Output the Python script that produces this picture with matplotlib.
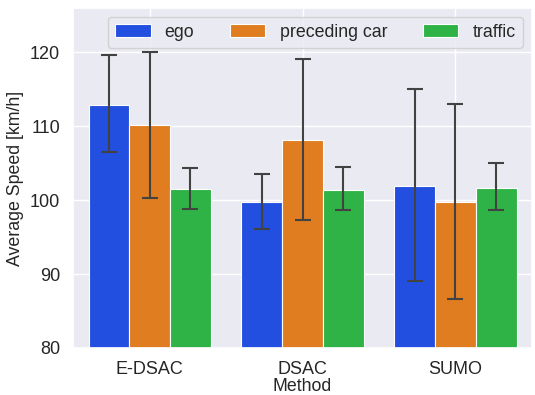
import numpy as np
import matplotlib
matplotlib.use('Agg')
import matplotlib.pyplot as plt
import seaborn as sns

methods = ['E-DSAC', 'DSAC', 'SUMO']
groups = ['ego', 'preceding car', 'traffic']

# mean speed and error bar ends, per group, per method
ego_mean = [112.9, 99.7, 101.9]
ego_low = [106.5, 96.1, 89.0]
ego_high = [119.6, 103.6, 115.0]

prec_mean = [110.1, 108.1, 99.7]
prec_low = [100.3, 97.3, 86.6]
prec_high = [120.1, 119.1, 113.0]

traf_mean = [101.5, 101.4, 101.7]
traf_low = [98.8, 98.6, 98.6]
traf_high = [104.4, 104.5, 105.0]

sns.set_theme(style='darkgrid')
plt.rcParams['font.family'] = ['Liberation Sans', 'DejaVu Sans']

colors = sns.color_palette('bright', 3, desat=0.75)

fig, ax = plt.subplots(figsize=(5.35, 3.95), dpi=100)

series = [
    (ego_mean, ego_low, ego_high),
    (prec_mean, prec_low, prec_high),
    (traf_mean, traf_low, traf_high),
]
x = np.arange(len(methods))
width = 0.8 / len(groups)
for i, (name, (mean, low, high)) in enumerate(zip(groups, series)):
    pos = x - 0.4 + width * (i + 0.5)
    mean = np.array(mean)
    err = [mean - np.array(low), np.array(high) - mean]
    ax.bar(pos, mean, width=width, color=colors[i], label=name,
           edgecolor='white', linewidth=0.8, zorder=2)
    ax.errorbar(pos, mean, yerr=err, fmt='none', ecolor='.26',
                elinewidth=1.5, capsize=5.5, capthick=1.5, zorder=3)

ax.set_xticks(x)
ax.set_xticklabels(methods)
ax.tick_params(labelsize=13)
ax.set_xlim(-0.5, 2.5)
ax.set_ylim(80, 126)
ax.set_yticks([80, 90, 100, 110, 120])
ax.set_xlabel('Method', fontsize=12.8, labelpad=0)
ax.set_ylabel('Average Speed [km/h]', fontsize=12.8)
ax.legend(loc='upper right', ncol=3, fontsize=12.8)

fig.subplots_adjust(left=0.137, right=0.994, top=0.98, bottom=0.119)
fig.savefig('out.png')
